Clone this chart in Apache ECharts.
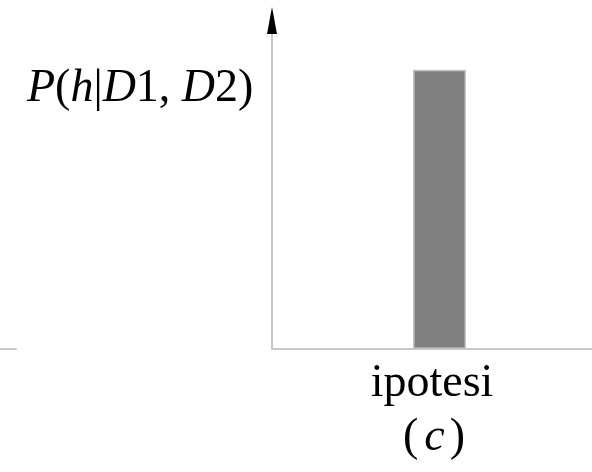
<!DOCTYPE html>
<html><head><meta charset="utf-8">
<script src="https://cdn.jsdelivr.net/npm/echarts@6/dist/echarts.min.js"></script>
<style>html,body{margin:0;padding:0;background:#fff}#c{width:592px;height:472px}</style>
</head><body><div id="c"></div>
<script>
const categories = ['ipotesi'];
const probValues = [0.85];
const yTicks = [0, 1];
const panelLabel = 'c';

const serif = 'Liberation Serif';
const fs = 46;
const richStyles = {
  i: {fontFamily: serif, fontStyle: 'italic', fontSize: fs, color: '#000'},
  c: {fontFamily: serif, fontStyle: 'italic', fontSize: fs, color: '#000', padding: [0, 5, 0, 6]},
  u: {fontFamily: serif, fontStyle: 'normal', fontSize: fs, color: '#000'}
};
const chart = echarts.init(document.getElementById('c'), null, {renderer: 'canvas'});
chart.setOption({
  animation: false,
  backgroundColor: '#fff',
  textStyle: {fontFamily: serif},
  title: [
    {left: 22, top: 61, padding: 5,
     text: '{i|P}{u|(}{i|h}{u||}{i|D}{u|1,}{i| D}{u|2)}',
     textStyle: {fontFamily: serif, fontSize: fs, fontWeight: 'normal', color: '#000', rich: richStyles}},
    {left: 398, top: 410, padding: 5,
     text: '{u|(}{c|' + panelLabel + '}{u|)}',
     textStyle: {fontFamily: serif, fontSize: fs, fontWeight: 'normal', color: '#000', rich: richStyles}}
  ],
  grid: [
    {left: 272, width: 335, top: 20.5, bottom: 123, containLabel: false, outerBoundsMode: 'none'},
    {left: 0, width: 16, top: 20.5, bottom: 123, containLabel: false, outerBoundsMode: 'none'}
  ],
  xAxis: [
    {type: 'category', gridIndex: 0, data: categories,
     axisLine: {show: true, lineStyle: {color: '#c8c8c8', width: 2}},
     axisTick: {show: false}, splitLine: {show: false},
     axisLabel: {show: true, color: '#000', fontFamily: serif, fontSize: fs, margin: 12, padding: [0, 15, 0, 0]}},
    {type: 'category', gridIndex: 1, data: [''],
     axisLine: {show: true, lineStyle: {color: '#c8c8c8', width: 2}},
     axisTick: {show: false}, axisLabel: {show: false}, splitLine: {show: false}}
  ],
  yAxis: [
    {type: 'value', gridIndex: 0, min: yTicks[0], max: yTicks[yTicks.length - 1],
     axisLine: {show: true, lineStyle: {color: '#c8c8c8', width: 2}},
     axisTick: {show: false}, axisLabel: {show: false}, splitLine: {show: false}},
    {type: 'value', gridIndex: 0, position: 'left', offset: 0, min: yTicks[0], max: yTicks[yTicks.length - 1],
     axisLine: {show: true, symbol: ['none', 'triangle'], symbolSize: [10, 27], lineStyle: {color: '#000', width: 0}},
     axisTick: {show: false}, axisLabel: {show: false}, splitLine: {show: false}},
    {type: 'value', gridIndex: 1, show: false, min: 0, max: 1}
  ],
  series: [{
    type: 'bar', xAxisIndex: 0, yAxisIndex: 0, data: probValues, barWidth: 53,
    itemStyle: {color: '#808080', borderColor: '#c4c4c4', borderWidth: 1.5}
  }]
});
</script></body></html>
